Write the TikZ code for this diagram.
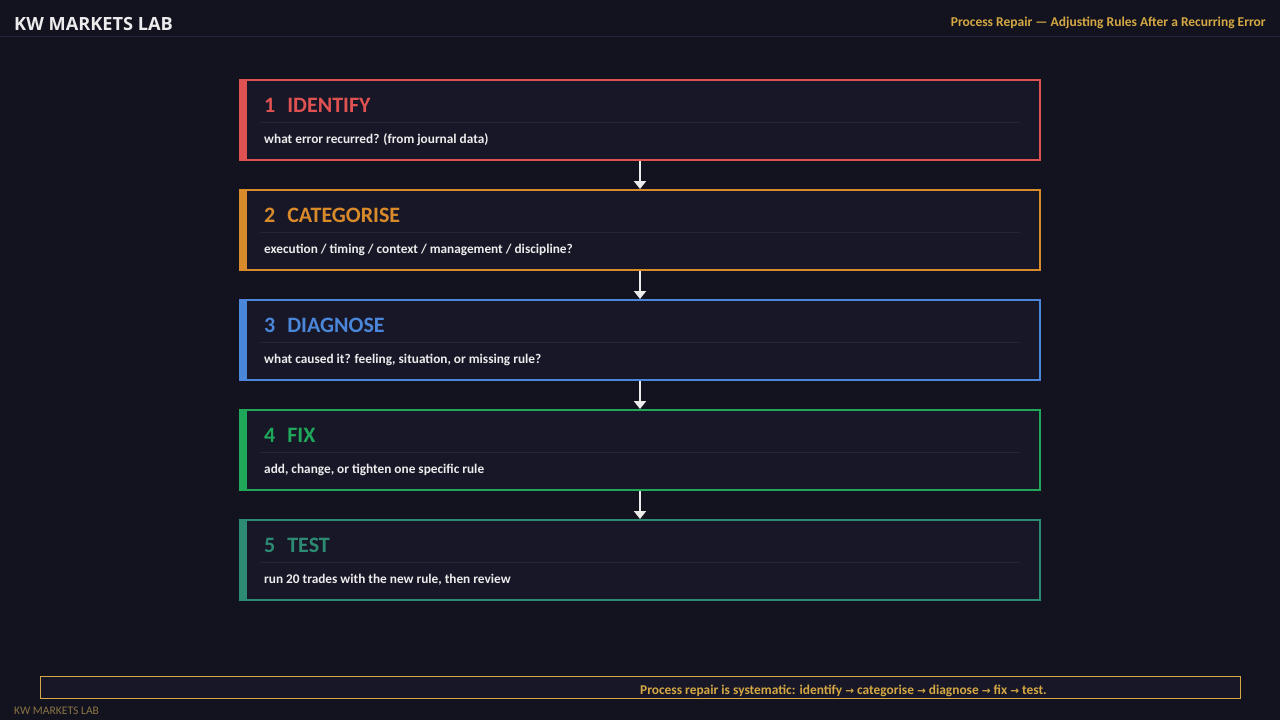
\documentclass[tikz,border=0pt]{standalone}
\usepackage{fontspec}
\setmainfont{Carlito}
\newfontfamily\headfont{Open Sans}
\newfontfamily\symfont{DejaVu Sans}
\usetikzlibrary{arrows.meta}

\definecolor{pagebg}{HTML}{13121F}
\definecolor{boxbg}{HTML}{181727}
\definecolor{rulecol}{HTML}{25243A}
\definecolor{gold}{HTML}{D4A843}
\definecolor{dimgold}{HTML}{8A7545}
\definecolor{softwhite}{HTML}{ECECEC}
\definecolor{stepred}{HTML}{E05252}
\definecolor{steporange}{HTML}{D98B2B}
\definecolor{stepblue}{HTML}{4A86D9}
\definecolor{stepgreen}{HTML}{1FA85A}
\definecolor{stepteal}{HTML}{2E8B73}

\newcommand{\ra}{{\symfont\fontsize{10.5}{12}\selectfont →}}

\tikzset{
  stepbox/.style={draw, line width=2pt, fill=boxbg, minimum width=800pt,
    minimum height=80pt, inner sep=0pt},
  flowarrow/.style={draw=softwhite, line width=2pt,
    -{Triangle[width=12pt,length=8pt]}},
}

\begin{document}
\begin{tikzpicture}[x=1pt,y=-1pt]
\fill[pagebg] (0,0) rectangle (1280,720);
\useasboundingbox (0,0) rectangle (1280,720);
% header
\draw[rulecol] (0,36) -- (1280,36);
\node[anchor=base west, inner sep=0pt, text=softwhite,
  font=\headfont\bfseries\fontsize{18.2}{20}\selectfont] (brand) at (14,30) {KW MARKETS LAB};
\node[anchor=base east, inner sep=0pt, text=gold,
  font=\bfseries\fontsize{13.5}{15}\selectfont] (subtitle) at (1266,27)
  {Process Repair — Adjusting Rules After a Recurring Error};
% steps
\foreach \n/\name/\desc/\col in {
    1/IDENTIFY/{what error recurred? (from journal data)}/stepred,
    2/CATEGORISE/{execution / timing / context / management / discipline?}/steporange,
    3/DIAGNOSE/{what caused it? feeling, situation, or missing rule?}/stepblue,
    4/FIX/{add, change, or tighten one specific rule}/stepgreen,
    5/TEST/{run 20 trades with the new rule, then review}/stepteal}
{
  \pgfmathsetmacro\top{80+110*(\n-1)}
  \node[stepbox, draw=\col] (step\n) at (640,\top+40) {};
  \fill[\col] (step\n.north west) rectangle ++(8,80);
  \node[anchor=base west, inner sep=0pt, text=\col,
    font=\bfseries\fontsize{22}{26}\selectfont] (title\n) at (264,\top+32)
    {\n\hspace{12pt}\name};
  \draw[rulecol] (260,\top+42.5) -- (1020,\top+42.5);
  \node[anchor=base west, inner sep=0pt, text=softwhite,
    font=\bfseries\fontsize{13.3}{16}\selectfont] (desc\n) at (264,\top+63) {\desc};
}
\foreach \i [evaluate=\i as \j using int(\i+1)] in {1,...,4}
  \draw[flowarrow] (step\i.south) -- (step\j.north);
% footer
\node[draw=gold, fill=boxbg, line width=1pt, minimum width=1200pt,
  minimum height=22pt, inner sep=0pt] (summary) at (640,687) {};
\node[anchor=base west, inner sep=0pt, text=gold,
  font=\bfseries\fontsize{13.4}{15}\selectfont] (summarytext) at (640,694)
  {Process repair is systematic: identify \ra{} categorise \ra{} diagnose \ra{} fix \ra{} test.};
\node[anchor=base west, inner sep=0pt, text=dimgold,
  font=\fontsize{11.6}{13}\selectfont] (footbrand) at (14,714) {KW MARKETS LAB};
\end{tikzpicture}
\end{document}
